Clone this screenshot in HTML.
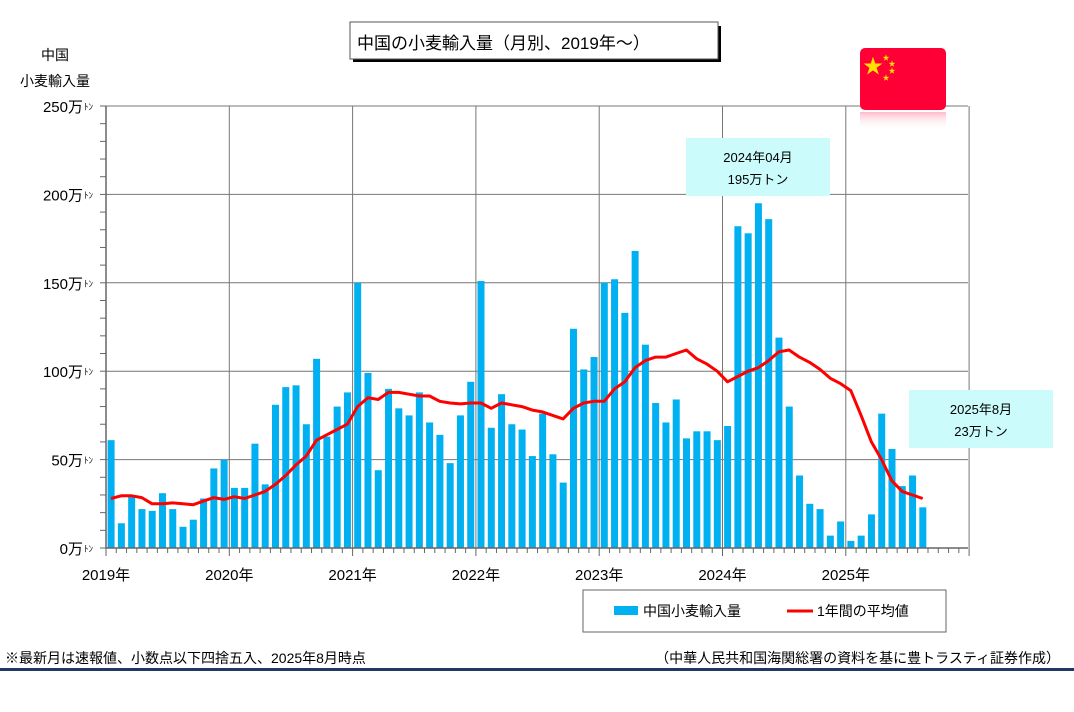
<!DOCTYPE html>
<html><head><meta charset="utf-8"><style>
body{margin:0;background:#fff;}
svg text{font-family:"Liberation Sans","Noto Sans CJK JP",sans-serif;}
</style></head><body>
<svg id="s" width="1074" height="707" xmlns="http://www.w3.org/2000/svg"></svg>
<script>
const s=document.getElementById('s');let h='';
const X0=106,MW=123.3/12,Y0=548,PY=442/250;
const y=v=>Y0-v*PY;
// gridlines
for(let v=50;v<=250;v+=50)h+=`<line x1="${X0}" x2="968" y1="${y(v)}" y2="${y(v)}" stroke="#777" stroke-width="1"/>`;
for(let k=1;k<=7;k++){let x=X0+k*123.3;h+=`<line x1="${x}" x2="${x}" y1="${y(250)}" y2="${Y0}" stroke="#777" stroke-width="1"/>`;}
const d=[61,14,29,22,21,31,22,12,16,28,45,50,
34,34,59,36,81,91,92,70,107,63,80,88,
150,99,44,90,79,75,88,71,64,48,75,94,
151,68,87,70,67,52,76,53,37,124,101,108,
150,152,133,168,115,82,71,84,62,66,66,61,
69,182,178,195,186,119,80,41,25,22,7,15,
4,7,19,76,56,35,41,23];
d.forEach((v,i)=>{let x=X0+i*MW+1.6;h+=`<rect x="${x}" y="${y(v)}" width="7" height="${v*PY}" fill="#00b0f0"/>`;});
const a=[28,29.5,29.5,28.5,25,25,25.5,25,24.5,26.5,28.5,27.5,
29,28,30,32,36,41,47,52,61,64,67,70,
80,85,84,88,88,87,86,86,83,82,81.5,82,
82,79,82,81,80,78,77,75,73,79,82,83,
83,90,94,102,106,108,108,110,112,107,104,100,
94,97,100,102,106,111,112,108,105,101,96,93,
89,75,60,50,38,32,30,28];
let p=a.slice(0,d.length).map((v,i)=>`${(X0+i*MW+5).toFixed(1)},${y(v).toFixed(1)}`).join(' ');
h+=`<polyline points="${p}" fill="none" stroke="#f00" stroke-width="3" stroke-linejoin="round"/>`;
// axes
h+=`<line x1="${X0}" x2="${X0}" y1="${y(250)}" y2="${Y0}" stroke="#666" stroke-width="1.5"/>`;
h+=`<line x1="${X0}" x2="968" y1="${Y0}" y2="${Y0}" stroke="#666" stroke-width="1.5"/>`;
for(let v=0;v<=250;v+=10)h+=`<line x1="100" x2="${X0}" y1="${y(v)}" y2="${y(v)}" stroke="#666"/>`;
for(let i=0;i<=84;i++){let x=X0+i*MW;h+=`<line x1="${x}" x2="${x}" y1="${Y0}" y2="${Y0+(i%12?5:8)}" stroke="#666"/>`;}
for(let v=0;v<=250;v+=50)h+=`<text x="83" y="${y(v)+6}" font-size="15" text-anchor="end">${v}万</text><text x="84" y="${y(v)+4}" font-size="9">ﾄﾝ</text>`;
['2019','2020','2021','2022','2023','2024','2025'].forEach((t,k)=>h+=`<text x="${X0+k*123.3}" y="580" font-size="15" text-anchor="middle">${t}年</text>`);
h+=`<text x="55" y="60" font-size="14" text-anchor="middle">中国</text><text x="55" y="86" font-size="14" text-anchor="middle">小麦輸入量</text>`;
// title
h+=`<rect x="353" y="26" width="368" height="36" fill="#000"/><rect x="350" y="22" width="368" height="37" fill="#fff" stroke="#555"/>`;
h+=`<text x="357" y="49" font-size="17">中国の小麦輸入量（月別、2019年～）</text>`;
// flag
h+=`<defs><linearGradient id="g" x1="0" y1="0" x2="0" y2="1"><stop offset="0" stop-color="#ff8da8" stop-opacity=".6"/><stop offset="1" stop-color="#fff" stop-opacity="0"/></linearGradient></defs>`;
h+=`<rect x="860" y="112" width="86" height="18" fill="url(#g)"/>`;
h+=`<rect x="860" y="48" width="86" height="62" rx="5" fill="#ff0036"/>`;
h+=`<text x="873" y="73" font-size="20" fill="#ffe000" text-anchor="middle">★</text>`;
[[886,56],[892,62],[892,69],[886,76]].forEach(([x,yy])=>h+=`<text x="${x}" y="${yy+4}" font-size="7" fill="#ffe000" text-anchor="middle">★</text>`);
// callouts
h+=`<rect x="686" y="138" width="144" height="58" fill="#ccfbfb"/><text x="758" y="162" font-size="13" text-anchor="middle">2024年04月</text><text x="758" y="184" font-size="13" text-anchor="middle">195万トン</text>`;
h+=`<rect x="909" y="390" width="144" height="58" fill="#ccfbfb"/><text x="981" y="414" font-size="13" text-anchor="middle">2025年8月</text><text x="981" y="436" font-size="13" text-anchor="middle">23万トン</text>`;
// legend
h+=`<rect x="583" y="590" width="363" height="42" fill="#fff" stroke="#666"/>`;
h+=`<rect x="614" y="606" width="24" height="9" fill="#00b0f0"/><text x="643" y="616" font-size="14">中国小麦輸入量</text>`;
h+=`<line x1="787" x2="813" y1="611" y2="611" stroke="#f00" stroke-width="3"/><text x="817" y="616" font-size="14">1年間の平均値</text>`;
h+=`<text x="5" y="663" font-size="14">※最新月は速報値、小数点以下四捨五入、2025年8月時点</text>`;
h+=`<text x="1060" y="663" font-size="14" text-anchor="end">（中華人民共和国海関総署の資料を基に豊トラスティ証券作成）</text>`;
h+=`<rect x="0" y="668" width="1074" height="3" fill="#1f3864"/>`;
s.innerHTML=h;
</script>
</body></html>
